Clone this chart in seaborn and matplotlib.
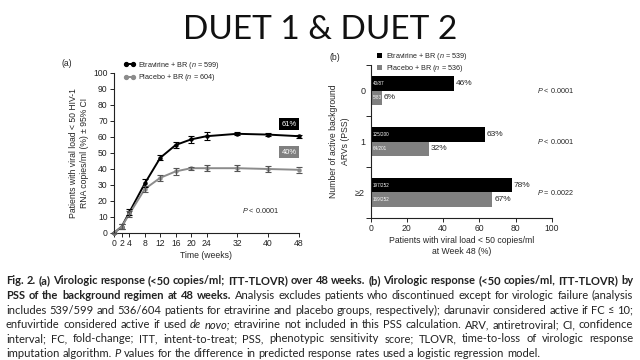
import numpy as np
import pandas as pd
import matplotlib
matplotlib.use("Agg")
import matplotlib.pyplot as plt
from matplotlib.lines import Line2D
from matplotlib.patches import Patch
import seaborn as sns

# ---------------- data ----------------
weeks = [0, 2, 4, 8, 12, 16, 20, 24, 32, 40, 48]
etr_pct = [0, 4, 13, 31, 47, 55, 58.5, 60.5, 62, 61.5, 60.5]
etr_ci = [0, 1.5, 2, 2.5, 1.5, 2, 2, 2.5, 1, 1, 1]
pbo_pct = [0, 4, 12, 27.5, 34.5, 38.5, 40.5, 40.5, 40.5, 40, 39.5]
pbo_ci = [0, 1.5, 2, 2, 2, 2, 1, 2, 2, 2, 2]
etr_label_a = "Etravirine + BR ($\\it{n}$ = 599)"
pbo_label_a = "Placebo + BR ($\\it{n}$ = 604)"
final_labels = ["61%", "40%"]

pss_groups = ["0", "1", "\u22652"]
etr_bar = [46, 63, 78]
pbo_bar = [6, 32, 67]
etr_frac = ["40/87", "125/200", "197/252"]
pbo_frac = ["5/83", "64/201", "169/252"]
p_values = ["$\\it{P}$ < 0.0001", "$\\it{P}$ < 0.0001", "$\\it{P}$ = 0.0022"]
etr_label_b = "Etravirine + BR ($\\it{n}$ = 539)"
pbo_label_b = "Placebo + BR ($\\it{n}$ = 536)"

BLACK = "#000000"
GREY_LINE = "#8c8c8c"
GREY_BAR = "#808080"

sns.set_theme(style="ticks")
plt.rcParams["font.family"] = ["Liberation Sans", "DejaVu Sans"]
plt.rcParams["mathtext.fontset"] = "custom"
plt.rcParams["mathtext.rm"] = "Liberation Sans"
plt.rcParams["mathtext.it"] = "Liberation Sans:italic"

W, H = 640, 360
fig = plt.figure(figsize=(6.4, 3.6), dpi=100)

def fx(px):
    return px / W

def fy(py):
    return 1 - py / H

# ---------------- title ----------------
fig.text(0.5, fy(30), "DUET 1 & DUET 2", ha="center", va="center",
         fontsize=24, family=["Lato", "DejaVu Sans"], color="#111111")

# ---------------- panel (a) ----------------
ax1 = fig.add_axes([fx(114), fy(233), fx(299) - fx(114), fy(73) - fy(233)])
df_a = pd.DataFrame({
    "week": weeks * 2,
    "pct": etr_pct + pbo_pct,
    "grp": [etr_label_a] * len(weeks) + [pbo_label_a] * len(weeks),
})
sns.lineplot(data=df_a, x="week", y="pct", hue="grp",
             palette=[BLACK, GREY_LINE], marker="o", markersize=3.2,
             markeredgewidth=0, linewidth=1.4, ax=ax1, legend=False)
ax1.errorbar(weeks, etr_pct, yerr=etr_ci, fmt="none", ecolor=BLACK,
             elinewidth=0.8, capsize=2, capthick=0.8, zorder=3)
ax1.errorbar(weeks, pbo_pct, yerr=pbo_ci, fmt="none", ecolor="#555555",
             elinewidth=0.8, capsize=2, capthick=0.8, zorder=3)
for l in ax1.lines:
    l.set_clip_on(False)
ax1.set_xlim(0, 48)
ax1.set_ylim(0, 100)
ax1.set_xticks(weeks)
ax1.set_yticks(range(0, 101, 10))
ax1.tick_params(axis="both", labelsize=6.2, length=3, width=0.7, pad=1.5,
                colors="#222222")
for s in ["top", "right"]:
    ax1.spines[s].set_visible(False)
for s in ["left", "bottom"]:
    ax1.spines[s].set_linewidth(0.8)
    ax1.spines[s].set_color("#222222")
ax1.set_xlabel("Time (weeks)", fontsize=6.2, labelpad=2)
ax1.set_ylabel("Patients with viral load < 50 HIV-1\nRNA copies/ml (%) \u00b1 95% CI",
               fontsize=6.2, labelpad=3, linespacing=1.3)
ax1.text(45.4, 68, final_labels[0], ha="center", va="center", fontsize=5.5,
         color="white", bbox=dict(boxstyle="square,pad=0.35", fc=BLACK, ec="none"))
ax1.text(45.4, 50.5, final_labels[1], ha="center", va="center", fontsize=5.5,
         color="white", bbox=dict(boxstyle="square,pad=0.35", fc=GREY_BAR, ec="none"))
ax1.text(37.9, 14, "$\\it{P}$ < 0.0001", ha="center", va="center", fontsize=5.2)
leg_a = [Line2D([0], [0], color=BLACK, marker="o", markersize=2.8, lw=1.4),
         Line2D([0], [0], color=GREY_LINE, marker="o", markersize=2.8, lw=1.4)]
fig.legend(leg_a, [etr_label_a, pbo_label_a], loc="upper left",
           bbox_to_anchor=(fx(124), fy(60)), frameon=False, fontsize=5.2,
           handlelength=1.6, numpoints=2, handletextpad=0.4, labelspacing=0.15,
           borderpad=0, borderaxespad=0)
fig.text(fx(67), fy(63), "(a)", fontsize=6.2, ha="center", va="center")

# ---------------- panel (b) ----------------
ax2 = fig.add_axes([fx(370.7), fy(218), fx(551.7) - fx(370.7), fy(65) - fy(218)])
df_b = pd.DataFrame({
    "pss": pss_groups * 2,
    "pct": etr_bar + pbo_bar,
    "grp": [etr_label_b] * 3 + [pbo_label_b] * 3,
})
sns.barplot(data=df_b, y="pss", x="pct", hue="grp", order=pss_groups,
            palette=[BLACK, GREY_BAR], width=0.56, orient="h",
            saturation=1, ax=ax2, legend=False, linewidth=0)
ax2.set_xlim(0, 100)
ax2.set_ylim(2.5, -0.5)
ax2.set_xticks(range(0, 101, 20))
ax2.set_yticks([0, 1, 2])
ax2.set_yticklabels(pss_groups)
ax2.set_yticks([-0.5, 0.5, 1.5, 2.5], minor=True)
ax2.tick_params(axis="y", which="major", length=0, labelsize=6.5, pad=4)
ax2.tick_params(axis="y", which="minor", length=3.5, width=0.7)
ax2.tick_params(axis="x", labelsize=6.2, length=3, width=0.7, pad=1.5)
for s in ["top", "right"]:
    ax2.spines[s].set_visible(False)
for s in ["left", "bottom"]:
    ax2.spines[s].set_linewidth(0.8)
    ax2.spines[s].set_color("#222222")
ax2.set_xlabel("Patients with viral load < 50 copies/ml\nat Week 48 (%)",
               fontsize=6.2, labelpad=2, linespacing=1.3)
ax2.set_ylabel("Number of active background\nARVs (PSS)", fontsize=6.2,
               labelpad=4, linespacing=1.3)

bars_etr = ax2.containers[0]
bars_pbo = ax2.containers[1]
for cont, vals, fracs in [(bars_etr, etr_bar, etr_frac), (bars_pbo, pbo_bar, pbo_frac)]:
    for rect, v, fr in zip(cont, vals, fracs):
        yc = rect.get_y() + rect.get_height() / 2
        ax2.text(v + 1.2, yc, f"{v}%", ha="left", va="center", fontsize=6)
        ax2.text(1.0, yc, fr, ha="left", va="center", fontsize=3.3, color="white")
for i, p in enumerate(p_values):
    ax2.text(92, i, p, ha="left", va="center", fontsize=5.2)
leg_b = [Patch(fc=BLACK, ec="none"), Patch(fc=GREY_BAR, ec="none")]
fig.legend(leg_b, [etr_label_b, pbo_label_b], loc="upper left",
           bbox_to_anchor=(fx(377), fy(51)), frameon=False, fontsize=5.2,
           handlelength=0.7, handleheight=0.7, handletextpad=0.5,
           labelspacing=0.2, borderpad=0, borderaxespad=0)
fig.text(fx(335), fy(57), "(b)", fontsize=6.2, ha="center", va="center")

# ---------------- caption (justified) ----------------
cap_lines = [
    [("Fig. 2.  (a) Virologic response (<50 copies/ml; ITT-TLOVR) over 48 weeks. (b) Virologic response (<50 copies/ml, ITT-TLOVR) by", "bold")],
    [("PSS of the background regimen at 48 weeks.", "bold"),
     ("Analysis excludes patients who discontinued except for virologic failure (analysis", "normal")],
    [("includes 539/599 and 536/604 patients for etravirine and placebo groups, respectively); darunavir considered active if FC \u2264 10;", "normal")],
    [("enfuvirtide considered active if used", "normal"), ("de novo;", "italic"),
     ("etravirine not included in this PSS calculation. ARV, antiretroviral; CI, confidence", "normal")],
    [("interval; FC, fold-change; ITT, intent-to-treat; PSS, phenotypic sensitivity score; TLOVR, time-to-loss of virologic response", "normal")],
    [("imputation algorithm.", "normal"), ("P", "italic"),
     ("values for the difference in predicted response rates used a logistic regression model.", "normal")],
]
cap_left, cap_right = 6, 633
cap_base0, cap_dy = 284.5, 14.5
cap_fs = 8.5
cap_family = ["Lato", "DejaVu Sans"]

fig.canvas.draw()
rend = fig.canvas.get_renderer()

def style_kw(st):
    if st == "bold":
        return dict(fontweight="bold", fontstyle="normal")
    if st == "italic":
        return dict(fontweight="normal", fontstyle="italic")
    return dict(fontweight="normal", fontstyle="normal")

def word_w(word, st, fs):
    t = fig.text(0, 0, word, fontsize=fs, family=cap_family, **style_kw(st))
    w = t.get_window_extent(rend).width
    t.remove()
    return w

def space_of(fs):
    return word_w("a a", "normal", fs) - word_w("aa", "normal", fs)

# pick a size where the widest line fits with normal word spacing
sp = space_of(cap_fs)
maxnat = 0
for line in cap_lines[:-1]:
    words = [(w, st) for seg, st in line for w in seg.split()]
    nat = sum(word_w(w, st, cap_fs) for w, st in words) + sp * (len(words) - 1)
    maxnat = max(maxnat, nat)
cap_fs *= (cap_right - cap_left) / maxnat

for li, line in enumerate(cap_lines):
    words = [(w, st) for seg, st in line for w in seg.split()]
    widths = [word_w(w, st, cap_fs) for w, st in words]
    if li < len(cap_lines) - 1:
        gap = (cap_right - cap_left - sum(widths)) / (len(words) - 1)
    else:
        gap = space_of(cap_fs)
    x = cap_left
    y = cap_base0 + li * cap_dy
    for (w, st), ww in zip(words, widths):
        fig.text(fx(x), fy(y), w, fontsize=cap_fs, family=cap_family, ha="left",
                 va="baseline", color="#222222", **style_kw(st))
        x += ww + gap

fig.savefig("out.png", dpi=100, facecolor="white")
